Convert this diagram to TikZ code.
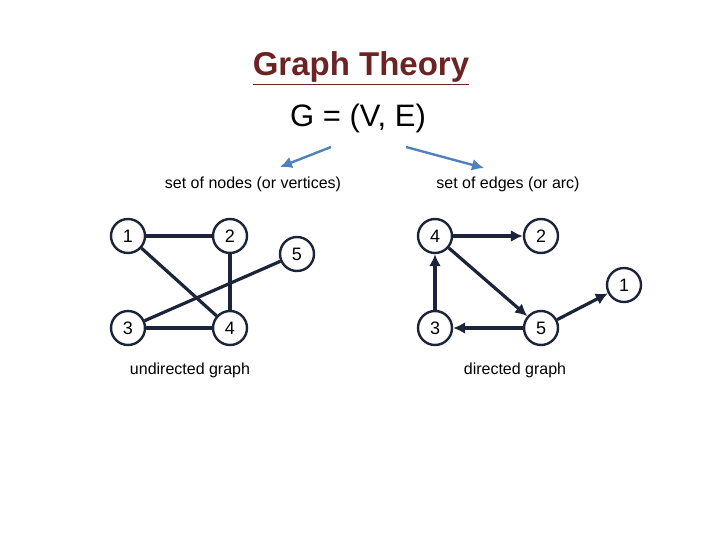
\documentclass[tikz,border=0pt]{standalone}
\usepackage{fontspec}
\setmainfont{Liberation Sans}
\usetikzlibrary{arrows.meta}
\definecolor{titlered}{HTML}{6B2323}
\definecolor{edgenavy}{HTML}{1B2438}
\definecolor{arrowblue}{HTML}{4F81BD}
\tikzset{
  vtx/.style = {circle, draw = edgenavy, line width = 2.4pt, fill = white,
                minimum size = 34pt, inner sep = 0pt, font = \fontsize{18}{20}\selectfont},
  edge/.style = {draw = edgenavy, line width = 3.2pt},
  dedge/.style = {edge, -{Latex[length = 12pt, width = 12pt]}},
  caption/.style = {font = \fontsize{16}{19}\selectfont}
}
\begin{document}
\begin{tikzpicture}[x = 1pt, y = -1pt]
  \useasboundingbox (0,0) rectangle (720,540);

  \node[font = \fontsize{33}{36}\selectfont\bfseries, text = titlered] (title) at (361,68) {\underline{Graph Theory}};
  \node[font = \fontsize{31}{34}\selectfont] (geq) at (358,118) {G = (V, E)};

  \node[caption] (nodes) at (253,184) {set of nodes (or vertices)};
  \node[caption] (edges) at (508,184) {set of edges (or arc)};
  \draw[arrowblue, line width = 2.4pt, -{Latex[length = 12pt, width = 12pt]}] (331,147) -- (280,167);
  \draw[arrowblue, line width = 2.4pt, -{Latex[length = 12pt, width = 12pt]}] (406,147) -- (484,168);

  % undirected graph
  \node[vtx] (u1) at (128,236) {1};
  \node[vtx] (u2) at (230,236) {2};
  \node[vtx] (u5) at (297,254) {5};
  \node[vtx] (u3) at (128,328) {3};
  \node[vtx] (u4) at (230,328) {4};
  \draw[edge] (u1) -- (u2);
  \draw[edge] (u1) -- (u4);
  \draw[edge] (u2) -- (u4);
  \draw[edge] (u3) -- (u4);
  \draw[edge] (u3) -- (u5);
  \node[caption] (ucap) at (190,370) {undirected graph};

  % directed graph
  \node[vtx] (d4) at (435,236) {4};
  \node[vtx] (d2) at (541,236) {2};
  \node[vtx] (d1) at (624,285) {1};
  \node[vtx] (d3) at (435,328) {3};
  \node[vtx] (d5) at (541,328) {5};
  \draw[dedge] (d4) -- (d2);
  \draw[dedge] (d4) -- (d5);
  \draw[dedge] (d3) -- (d4);
  \draw[dedge] (d5) -- (d3);
  \draw[dedge] (d5) -- (d1);
  \node[caption] (dcap) at (515,370) {directed graph};
\end{tikzpicture}
\end{document}
